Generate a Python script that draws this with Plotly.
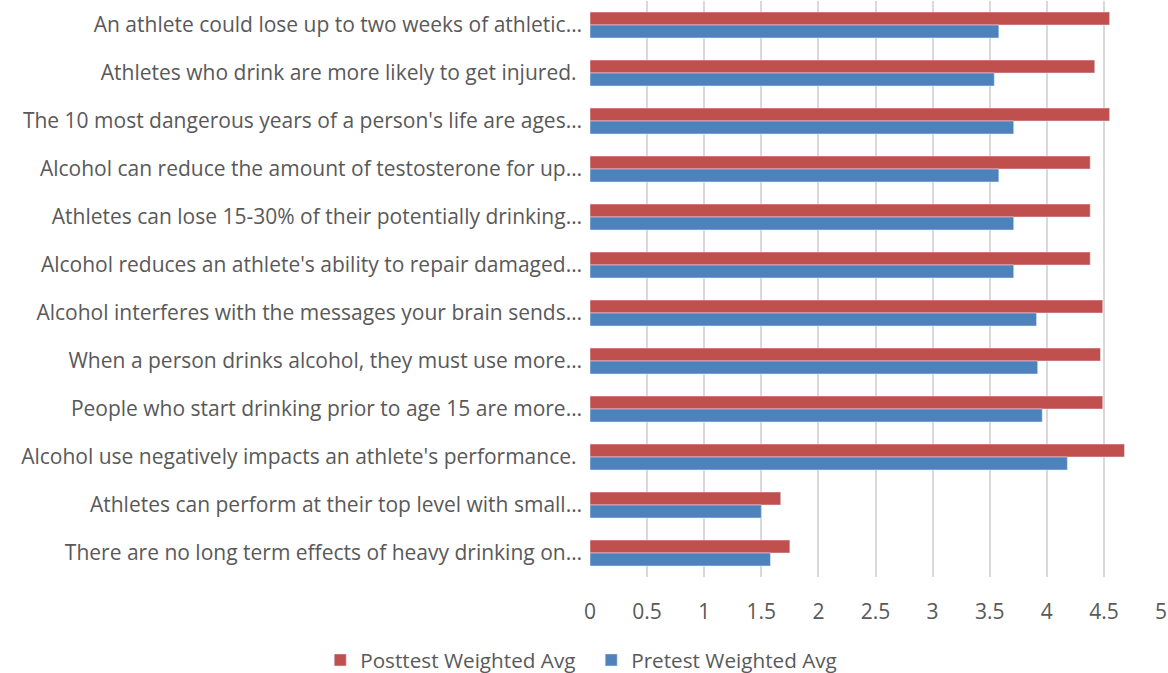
import plotly.graph_objects as go

NB = "\u00a0"
categories = [
    "An athlete could lose up to two weeks of athletic…",
    "Athletes who drink are more likely to get injured." + NB,
    "The 10 most dangerous years of a person's life are ages…",
    "Alcohol can reduce the amount of testosterone for up…",
    "Athletes can lose 15-30% of their potentially drinking…",
    "Alcohol reduces an athlete's ability to repair damaged…",
    "Alcohol interferes with the messages your brain sends…",
    "When a person drinks alcohol, they must use more…",
    "People who start drinking prior to age 15 are more…",
    "Alcohol use negatively impacts an athlete's performance." + NB,
    "Athletes can perform at their top level with small…",
    "There are no long term effects of heavy drinking on…",
]
posttest = [4.55, 4.42, 4.55, 4.38, 4.38, 4.38, 4.49, 4.47, 4.49, 4.68, 1.67, 1.75]
pretest = [3.58, 3.54, 3.71, 3.58, 3.71, 3.71, 3.91, 3.92, 3.96, 4.18, 1.50, 1.58]
x_ticks = [0, 0.5, 1, 1.5, 2, 2.5, 3, 3.5, 4, 4.5, 5]

FONT = "Open Sans"
TXT = "#595959"
fig = go.Figure()
fig.add_trace(go.Bar(y=categories, x=posttest, orientation="h",
                     name="Posttest Weighted Avg" + NB * 2, marker_color="#C0504D"))
fig.add_trace(go.Bar(y=categories, x=pretest, orientation="h",
                     name="Pretest Weighted Avg", marker_color="#4F81BD"))

fig.update_layout(
    width=1168, height=673,
    margin=dict(l=590, r=7, t=1, b=96, autoexpand=False),
    paper_bgcolor="white", plot_bgcolor="white",
    barmode="group", bargap=0.46, bargroupgap=0,
    font=dict(family=FONT, size=21, color=TXT),
    showlegend=True,
    legend=dict(orientation="h", xref="container", yref="container",
                x=0.4976, xanchor="center", y=0.0193, yanchor="middle",
                font=dict(size=20.7, color=TXT), itemwidth=30),
    xaxis=dict(range=[0, 5], tickvals=x_ticks, ticktext=[str(t) for t in x_ticks],
               showgrid=True, gridcolor="#D9D9D9", gridwidth=1.5,
               zeroline=False, showline=False, ticks="", ticklabelstandoff=20,
               automargin=False, tickfont=dict(size=21, color=TXT)),
    yaxis=dict(autorange="reversed", showgrid=False, zeroline=False, showline=False,
               ticks="", ticklabelstandoff=7, automargin=False,
               tickfont=dict(size=21, color=TXT)),
)
fig.write_html(
    "out.html",
    config={"displayModeBar": False},
    post_script="document.body.style.margin='0';document.body.style.overflow='hidden';",
)
